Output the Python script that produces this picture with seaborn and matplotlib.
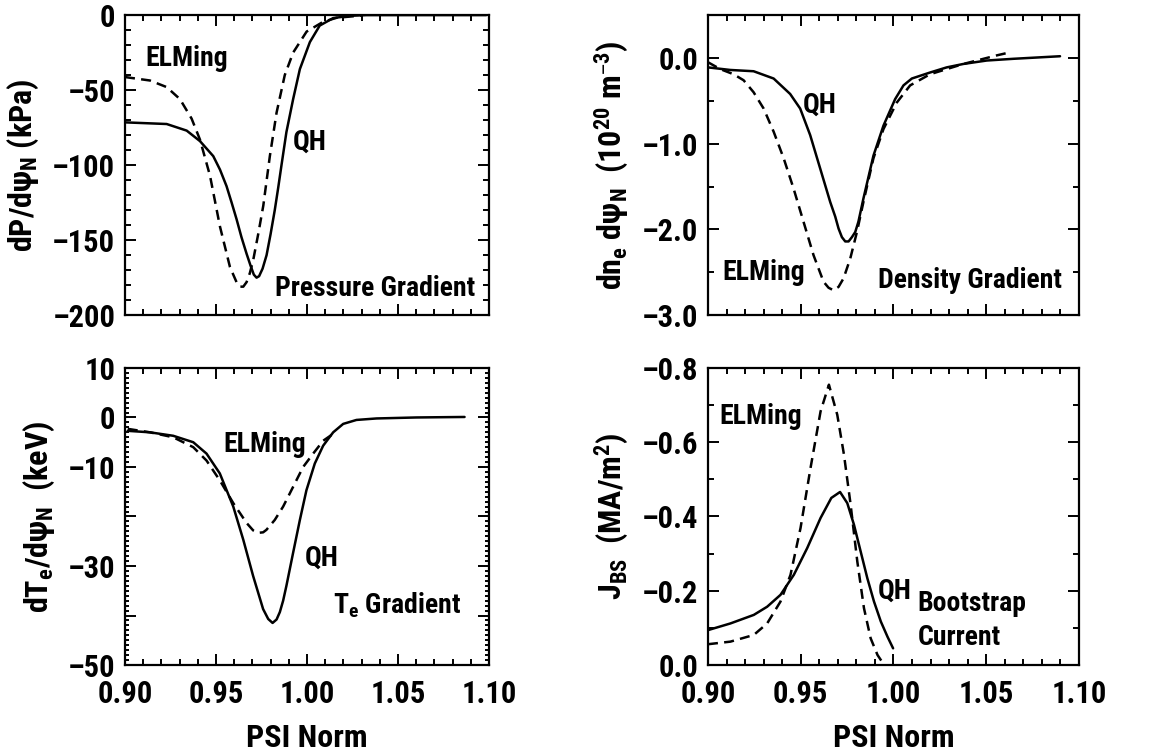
import numpy as np
import pandas as pd
import matplotlib
matplotlib.use("Agg")
import matplotlib.pyplot as plt
from matplotlib.ticker import MultipleLocator, FixedLocator, FixedFormatter, FuncFormatter
import seaborn as sns

# ---- data ----
# pressure gradient (kPa)
p_qh_x = [0.900, 0.9229, 0.9339, 0.9412, 0.9485, 0.9522, 0.9558, 0.9586, 0.9613, 0.9640,
          0.9668, 0.9690, 0.9708, 0.9723, 0.9737, 0.9756, 0.9778, 0.9800, 0.9823, 0.9842,
          0.9860, 0.9887, 0.9924, 0.9961, 1.0016, 1.0070, 1.0144, 1.0235, 1.0327, 1.0985]
p_qh_y = [-71.5, -72.6, -77, -84, -94, -103, -114, -125, -136, -148,
          -159, -167, -173, -175, -174, -169, -160, -146, -130, -115,
          -100, -78, -56, -36, -18, -7, -2, -0.5, 0, 0]
p_el_x = [0.900, 0.9137, 0.9229, 0.9302, 0.9366, 0.9412, 0.9467, 0.9522, 0.9577, 0.9595,
          0.9613, 0.9631, 0.9650, 0.9668, 0.9686, 0.9705, 0.9732, 0.9760, 0.9796, 0.9833,
          0.9878, 0.9924, 0.9998, 1.0089, 1.0163, 1.0300]
p_el_y = [-41.3, -43.6, -48, -56, -69, -83, -107, -141, -168, -173,
          -178, -181, -181, -178, -172, -163, -146, -127, -94, -65,
          -40, -25, -11, -4.5, -1.8, -0.3]

# density gradient (1e20 m^-3)
n_qh_x = [0.900, 0.9120, 0.9246, 0.9354, 0.9443, 0.9497, 0.9551, 0.9605, 0.9659, 0.9686,
          0.9704, 0.9722, 0.9740, 0.9758, 0.9776, 0.9794, 0.9811, 0.9838, 0.9892, 0.9946,
          1.0009, 1.0054, 1.0099, 1.0197, 1.0287, 1.0377, 1.0503, 1.0646, 1.0898]
n_qh_y = [-0.11, -0.14, -0.155, -0.24, -0.42, -0.59, -0.90, -1.29, -1.68, -1.85,
          -1.99, -2.09, -2.14, -2.14, -2.09, -2.03, -1.91, -1.64, -1.14, -0.79,
          -0.48, -0.32, -0.24, -0.17, -0.11, -0.07, -0.03, -0.01, 0.02]
n_el_x = [0.900, 0.9066, 0.9138, 0.9192, 0.9246, 0.9300, 0.9354, 0.9408, 0.9461, 0.9515,
          0.9569, 0.9623, 0.9650, 0.9677, 0.9704, 0.9731, 0.9767, 0.9803, 0.9838, 0.9892,
          0.9946, 1.0018, 1.0090, 1.0197, 1.0287, 1.0377, 1.0467, 1.0557, 1.0637]
n_el_y = [-0.05, -0.13, -0.19, -0.26, -0.40, -0.59, -0.86, -1.17, -1.52, -1.91,
          -2.30, -2.61, -2.68, -2.71, -2.67, -2.57, -2.34, -2.03, -1.68, -1.17,
          -0.83, -0.52, -0.32, -0.19, -0.13, -0.07, -0.02, 0.03, 0.07]

# electron temperature gradient (keV)
t_qh_x = [0.9015, 0.9137, 0.9265, 0.9375, 0.9448, 0.9521, 0.9595, 0.9650, 0.9704, 0.9759,
          0.9787, 0.9811, 0.9833, 0.9851, 0.9869, 0.9887, 0.9924, 0.9961, 0.9997, 1.0043,
          1.0089, 1.0144, 1.0199, 1.0272, 1.0382, 1.0601, 1.0866]
t_qh_y = [-2.7, -3.0, -3.7, -5, -7.3, -11.3, -18, -24.7, -32, -38.7,
          -40.7, -41.5, -40.8, -39.3, -37, -34, -27.3, -20.7, -14.7, -9.3,
          -5.7, -3, -1.3, -0.5, -0.2, 0, 0.1]
t_el_x = [0.9015, 0.9137, 0.9265, 0.9375, 0.9448, 0.9521, 0.9595, 0.9668, 0.9704, 0.9732,
          0.9759, 0.9777, 0.9823, 0.9869, 0.9924, 0.9979, 1.0034, 1.0089, 1.0144]
t_el_y = [-2.3, -3, -4, -6, -8.7, -12.7, -17.3, -21.3, -22.8, -23.3,
          -23.2, -22.7, -20.7, -18, -14, -10, -7.3, -4.7, -3.3]

# bootstrap current (MA/m^2)
j_qh_x = [0.900, 0.9121, 0.9247, 0.9319, 0.9391, 0.9463, 0.9535, 0.9607, 0.9665, 0.9712,
          0.9751, 0.9787, 0.9823, 0.9859, 0.9895, 0.9932, 0.9968, 0.9998]
j_qh_y = [-0.094, -0.112, -0.135, -0.157, -0.189, -0.243, -0.315, -0.396, -0.450, -0.466,
          -0.436, -0.378, -0.306, -0.234, -0.171, -0.117, -0.076, -0.045]
j_el_x = [0.900, 0.9121, 0.9247, 0.9319, 0.9391, 0.9445, 0.9499, 0.9553, 0.9607, 0.9652,
          0.9697, 0.9733, 0.9769, 0.9805, 0.9841, 0.9877, 0.9914, 0.9950]
j_el_y = [-0.056, -0.063, -0.081, -0.112, -0.171, -0.243, -0.369, -0.531, -0.683, -0.755,
          -0.674, -0.567, -0.432, -0.279, -0.153, -0.072, -0.027, 0.0]

x_ticks = [0.90, 0.95, 1.00, 1.05, 1.10]
x_ticklabels = ["0.90", "0.95", "1.00", "1.05", "1.10"]

# ---- style ----
sns.set_theme(style="ticks")
plt.rcParams["font.family"] = ["Roboto Condensed", "Liberation Sans", "DejaVu Sans"]
plt.rcParams["font.weight"] = "bold"
plt.rcParams["axes.labelweight"] = "bold"
plt.rcParams["mathtext.default"] = "regular"
plt.rcParams["axes.linewidth"] = 1.6
plt.rcParams["axes.edgecolor"] = "black"
plt.rcParams["text.color"] = "black"
plt.rcParams["axes.labelcolor"] = "black"
plt.rcParams["xtick.color"] = "black"
plt.rcParams["ytick.color"] = "black"

fig = plt.figure(figsize=(11.51, 7.54), dpi=100)
ax_p = fig.add_axes([0.1086, 0.582, 0.3162, 0.398])
ax_n = fig.add_axes([0.6151, 0.582, 0.3223, 0.398])
ax_t = fig.add_axes([0.1086, 0.118, 0.3162, 0.394])
ax_j = fig.add_axes([0.6151, 0.118, 0.3223, 0.394])

lw = 1.8
panels = [
    (ax_p, p_qh_x, p_qh_y, p_el_x, p_el_y),
    (ax_n, n_qh_x, n_qh_y, n_el_x, n_el_y),
    (ax_t, t_qh_x, t_qh_y, t_el_x, t_el_y),
    (ax_j, j_qh_x, j_qh_y, j_el_x, j_el_y),
]
for ax, qx, qy, ex, ey in panels:
    sns.lineplot(x=qx, y=qy, ax=ax, color="black", lw=lw, sort=False)
    sns.lineplot(x=ex, y=ey, ax=ax, color="black", lw=lw, sort=False,
                 linestyle=(0, (4, 2.5)))
    ax.set_xlim(0.90, 1.10)
    ax.xaxis.set_major_locator(FixedLocator(x_ticks))
    ax.xaxis.set_minor_locator(MultipleLocator(0.01))
    ax.tick_params(which="both", direction="in", top=True, right=True,
                   width=1.4, colors="black", labelsize=22)
    ax.tick_params(axis="x", which="both", pad=10)
    ax.tick_params(axis="y", which="both", pad=7)
    ax.tick_params(which="major", length=8)
    ax.tick_params(which="minor", length=4)
    for s in ax.spines.values():
        s.set_linewidth(1.6)
        s.set_visible(True)

one_dec = FuncFormatter(lambda v, pos: f"{v:.1f}".replace("-", "\u2013"))

# pressure panel
ax_p.set_ylim(-200, 0)
ax_p.yaxis.set_major_locator(MultipleLocator(50))
ax_p.yaxis.set_minor_locator(MultipleLocator(10))
ax_p.yaxis.set_major_formatter(FuncFormatter(lambda v, pos: f"{v:.0f}".replace("-", "\u2013")))
ax_p.set_xticklabels([])
ax_p.set_ylabel("dP/dψ$_N$ (kPa)", fontsize=23, labelpad=8)

# density panel
ax_n.set_ylim(-3.0, 0.5)
ax_n.yaxis.set_major_locator(MultipleLocator(1.0))
ax_n.yaxis.set_minor_locator(MultipleLocator(0.5))
ax_n.yaxis.set_major_formatter(one_dec)
ax_n.set_xticklabels([])
ax_n.set_ylabel("dn$_e$ dψ$_N$  (10$^{20}$ m$^{\u2013 3}$)", fontsize=23, labelpad=8)

# temperature panel
ax_t.set_ylim(-50, 10)
ax_t.yaxis.set_major_locator(FixedLocator([10, 0, -10, -20, -30, -40, -50]))
ax_t.yaxis.set_major_formatter(FixedFormatter(["10", "0", "\u201310", "", "\u201330", "", "\u201350"]))
ax_t.yaxis.set_minor_locator(MultipleLocator(1))
ax_t.tick_params(axis="y", which="minor", length=3)
ax_t.set_xticklabels(x_ticklabels)
ax_t.set_ylabel("dT$_e$/dψ$_N$  (keV)", fontsize=23, labelpad=8)
ax_t.set_xlabel("PSI Norm", fontsize=23, labelpad=10)

# bootstrap current panel
ax_j.set_ylim(0.0, -0.8)
ax_j.yaxis.set_major_locator(MultipleLocator(0.2))
ax_j.yaxis.set_minor_locator(MultipleLocator(0.1))
ax_j.yaxis.set_major_formatter(one_dec)
ax_j.set_xticklabels(x_ticklabels)
ax_j.set_ylabel("J$_{BS}$  (MA/m$^2$)", fontsize=23, labelpad=8)
ax_j.set_xlabel("PSI Norm", fontsize=23, labelpad=10)

# annotations
fs = 20
ax_p.text(0.911, -29, "ELMing", fontsize=fs, ha="left", va="center")
ax_p.text(0.9923, -85, "QH", fontsize=fs, ha="left", va="center")
ax_p.text(0.9824, -182, "Pressure Gradient", fontsize=fs, ha="left", va="center")

ax_n.text(0.9512, -0.55, "QH", fontsize=fs, ha="left", va="center")
ax_n.text(0.9076, -2.5, "ELMing", fontsize=fs, ha="left", va="center")
ax_n.text(0.9916, -2.6, "Density Gradient", fontsize=fs, ha="left", va="center")

ax_t.text(0.9538, -5.4, "ELMing", fontsize=fs, ha="left", va="center")
ax_t.text(0.9989, -28.5, "QH", fontsize=fs, ha="left", va="center")
ax_t.text(1.0143, -38.0, "T$_e$ Gradient", fontsize=fs, ha="left", va="center")

ax_j.text(0.9060, -0.67, "ELMing", fontsize=fs, ha="left", va="center")
ax_j.text(0.9914, -0.20, "QH", fontsize=fs, ha="left", va="center")
ax_j.text(1.0129, -0.165, "Bootstrap", fontsize=fs, ha="left", va="center")
ax_j.text(1.0129, -0.075, "Current", fontsize=fs, ha="left", va="center")

fig.savefig("out.png", dpi=100)
